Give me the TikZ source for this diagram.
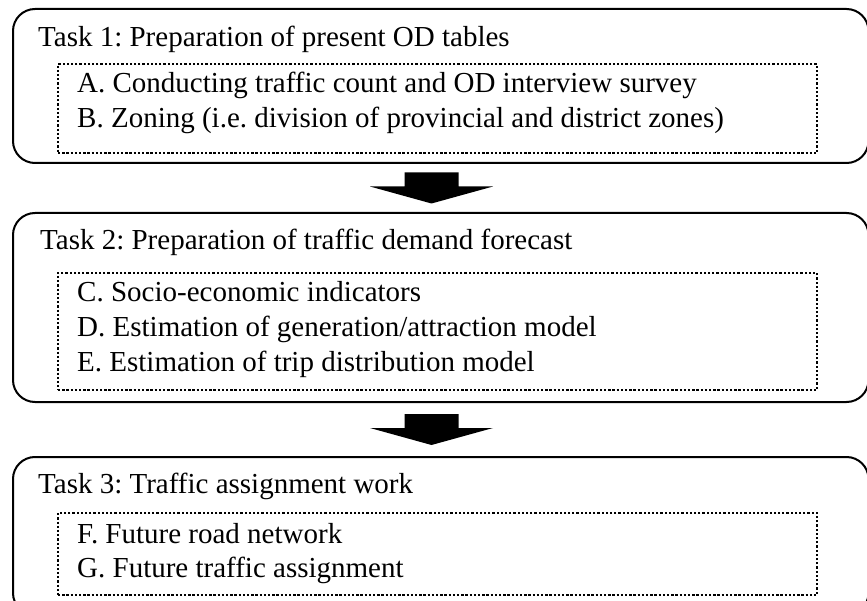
\documentclass[tikz,border=0pt]{standalone}
\usepackage{fontspec}
\setmainfont{Liberation Serif}
\usetikzlibrary{calc}

\tikzset{
  taskbox/.style={draw, line width=2pt, rounded corners=22pt, rectangle, inner sep=0pt},
  itembox/.style={draw, line width=2.3pt, dash pattern=on 2.3pt off 1.9pt, rectangle, inner sep=0pt},
  label/.style={anchor=base west, inner sep=0pt, font=\fontsize{29}{34}\selectfont},
  flowarrow/.style={fill=black, draw=none},
}

% block arrow centred between the bottom of one box and the top of the next
\newcommand\taskarrow[2]{%
  \fill[flowarrow, shift={($(#1.south)!0.5!(#2.north)+(-9.25,0)$)}]
    (-27,-15.5) -- (27,-15.5) -- (27,-1.5) -- (61.5,-1.5) -- (0,15.5)
    -- (-61.5,-1.5) -- (-27,-1.5) -- cycle;
}

\begin{document}
\frenchspacing
\begin{tikzpicture}[x=1pt, y=-1pt]
  \useasboundingbox (0,0) rectangle (867,601);
  \clip (0,0) rectangle (867,601);

  % Task 1
  \node[taskbox, minimum width=855.5pt, minimum height=154pt] (t1) at (440.75,86) {};
  \node[itembox, minimum width=759pt, minimum height=89pt] (d1) at (437.5,108.5) {};
  \node[label] (t1title) at (38,47) {Task 1: Preparation of present OD tables};
  \node[label] (a) at (77,93) {A. Conducting traffic count and OD interview survey};
  \node[label] (b) at (77,128) {B. Zoning (i.e. division of provincial and district zones)};

  % Task 2
  \node[taskbox, minimum width=855.5pt, minimum height=189pt] (t2) at (440.75,307.5) {};
  \node[itembox, minimum width=759pt, minimum height=117pt] (d2) at (437.5,331.5) {};
  \node[label] (t2title) at (40,250) {Task 2: Preparation of traffic demand forecast};
  \node[label] (c) at (77,302) {C. Socio-economic indicators};
  \node[label] (d) at (77,337) {D. Estimation of generation/attraction model};
  \node[label] (e) at (77,371) {E. Estimation of trip distribution model};

  % Task 3
  \node[taskbox, minimum width=855.5pt, minimum height=158pt] (t3) at (440.75,536) {};
  \node[itembox, minimum width=759pt, minimum height=82pt] (d3) at (437.5,554) {};
  \node[label] (t3title) at (38,493) {Task 3: Traffic assignment work};
  \node[label] (f) at (77,543) {F. Future road network};
  \node[label] (g) at (77,577) {G. Future traffic assignment};

  % arrows between the tasks
  \taskarrow{t1}{t2}
  \taskarrow{t2}{t3}
\end{tikzpicture}
\end{document}
